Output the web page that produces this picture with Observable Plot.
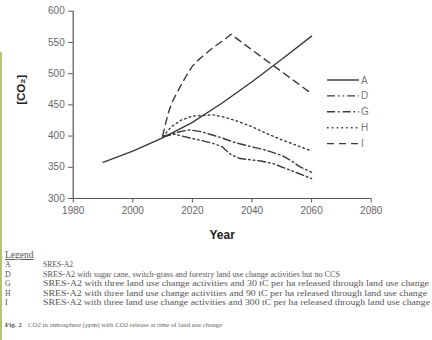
<!DOCTYPE html>
<html>
<head>
<meta charset="utf-8">
<script src="https://cdn.jsdelivr.net/npm/d3@7"></script>
<script src="https://cdn.jsdelivr.net/npm/@observablehq/plot@0.6"></script>
<style>
  html, body { margin: 0; padding: 0; background: #fff; }
  #wrap { position: relative; width: 432px; height: 340px; overflow: hidden; font-family: "Liberation Sans", Arial, sans-serif; }
  #chart { position: absolute; left: 0; top: 0; }
  #legend, #notes { position: absolute; left: 0; top: 0; }
  #bar { position: absolute; left: 0; top: 52px; width: 2px; height: 288px; background: #b3c66c; }
</style>
</head>
<body>
<div id="wrap">
  <div id="chart"></div>
  <svg id="legend" width="432" height="246"></svg>
  <svg id="notes" width="432" height="340"></svg>
  <div id="bar"></div>
</div>
<script>
// ---- data ----
const xTicks = [1980, 2000, 2020, 2040, 2060, 2080];
const yTicks = [300, 350, 400, 450, 500, 550, 600];

const seriesNames = ["A", "D", "G", "H", "I"];

const yearsA = [1990, 2000, 2010, 2020, 2030, 2040, 2050, 2060];
const valuesA = [358, 376, 397, 422, 453, 487, 523, 560];

const yearsD = [2010, 2014, 2020, 2023, 2027, 2030, 2033, 2036, 2043, 2047, 2053, 2060];
const valuesD = [399, 403, 396, 393, 388, 383, 370, 364, 360, 356, 345, 332];

const yearsG = [2010, 2014, 2019, 2023, 2030, 2034, 2038, 2045, 2050, 2053, 2056, 2060];
const valuesG = [399, 405, 410, 407, 397, 390, 385, 377, 369, 361, 351, 342];

const yearsH = [2010, 2013, 2016, 2020, 2027, 2031, 2035, 2040, 2044, 2050, 2055, 2060];
const valuesH = [399, 415, 425, 432, 434, 430, 424, 415, 406, 394, 385, 376];

const yearsI = [2010, 2011, 2012, 2013, 2014, 2016, 2018, 2020, 2022, 2024, 2027, 2030, 2033, 2040, 2050, 2060];
const valuesI = [400, 420, 438, 452, 462, 480, 497, 512, 522, 530, 542, 552, 563, 538, 503, 468];

const legendTitle = "Legend";
const legendCodes = ["A", "D", "G", "H", "I"];
const legendTexts = [
  "SRES-A2",
  "SRES-A2 with sugar cane, switch-grass and forestry land use change activities but no CCS",
  "SRES-A2 with three land use change activities and 30 tC per ha released through land use change",
  "SRES-A2 with three land use change activities and 90 tC per ha released through land use change",
  "SRES-A2 with three land use change activities and 300 tC per ha released through land use change"
];
const captionBold = "Fig. 2";
const captionText = "CO2 in atmosphere (ppm) with CO2 release at time of land use change";

// ---- styles ----
const dashes = { A: null, D: "8,3,1.6,3,1.6,3", G: "8,3,1.6,3", H: "1.6,3.2", I: "7,5" };
const ink = "#3a3a3a";

const toRows = (years, values) => years.map((x, i) => ({ x, y: values[i] }));
const data = {
  A: toRows(yearsA, valuesA),
  D: toRows(yearsD, valuesD),
  G: toRows(yearsG, valuesG),
  H: toRows(yearsH, valuesH),
  I: toRows(yearsI, valuesI)
};

const lineMarks = seriesNames.map(k =>
  Plot.line(data[k], { x: "x", y: "y", stroke: ink, strokeWidth: 1.4, strokeDasharray: dashes[k] })
);

const chart = Plot.plot({
  width: 432,
  height: 246,
  marginLeft: 72.7,
  marginRight: 61.3,
  marginTop: 10.7,
  marginBottom: 48,
  style: { fontFamily: "'Liberation Sans', Arial, sans-serif", background: "transparent" },
  x: { domain: [1980, 2080] },
  y: { domain: [300, 600] },
  marks: [
    Plot.axisX({ ticks: xTicks, tickFormat: d => String(d), tickSize: 4.5, tickPadding: 4, fontSize: 10, color: "#666", stroke: "#555", label: null }),
    Plot.axisY({ ticks: yTicks, tickSize: 4.5, tickPadding: 4, fontSize: 10, color: "#666", stroke: "#555", label: null }),
    Plot.ruleX([1980], { stroke: "#555", strokeWidth: 1.2 }),
    Plot.ruleY([300], { stroke: "#555", strokeWidth: 1.2 }),
    ...lineMarks,
    Plot.text(["Year"], { frameAnchor: "bottom", dy: 40, fontWeight: "bold", fontSize: 12, fill: "#222" }),
    Plot.text(["[CO₂]"], { frameAnchor: "left", dx: -52, rotate: -90, fontWeight: "bold", fontSize: 11.5, fill: "#222" })
  ]
});
document.getElementById("chart").appendChild(chart);

// ---- in-plot legend (overlay) ----
const lg = d3.select("#legend");
const lgTop = 80, lgStep = 15.9, lgX0 = 327, lgX1 = 359;
seriesNames.forEach((k, i) => {
  const y = lgTop + i * lgStep;
  lg.append("line").attr("x1", lgX0).attr("x2", lgX1).attr("y1", y).attr("y2", y)
    .attr("stroke", ink).attr("stroke-width", 1.4).attr("stroke-dasharray", dashes[k]);
  lg.append("text").attr("x", lgX1 + 2).attr("y", y).attr("dy", "0.35em")
    .attr("font-size", 10).attr("fill", "#777").attr("font-family", "'Liberation Sans', Arial, sans-serif").text(k);
});

// ---- notes below chart ----
const nt = d3.select("#notes");
const serif = "'Liberation Serif', 'Times New Roman', serif";
nt.append("text").attr("x", 5).attr("y", 258).attr("font-size", 9.5).attr("font-family", serif)
  .attr("fill", "#555").attr("text-decoration", "underline").text(legendTitle);
const rowY = [267, 276.5, 286, 295.5, 305];
const rowEnd = [73, 340, 429, 427, 430];
legendCodes.forEach((c, i) => {
  nt.append("text").attr("x", 5).attr("y", rowY[i]).attr("font-size", 7.8).attr("font-family", serif)
    .attr("fill", "#555").text(c);
  nt.append("text").attr("x", 43).attr("y", rowY[i]).attr("font-size", 7.8).attr("font-family", serif)
    .attr("fill", "#555").attr("textLength", rowEnd[i] - 43).attr("lengthAdjust", "spacingAndGlyphs").text(legendTexts[i]);
});
nt.append("text").attr("x", 5).attr("y", 327).attr("font-size", 7).attr("font-family", serif)
  .attr("fill", "#555").attr("font-weight", "bold").text(captionBold);
nt.append("text").attr("x", 28).attr("y", 327).attr("font-size", 7).attr("font-family", serif)
  .attr("fill", "#666").attr("textLength", 222 - 28).attr("lengthAdjust", "spacingAndGlyphs").text(captionText);
</script>
</body>
</html>
